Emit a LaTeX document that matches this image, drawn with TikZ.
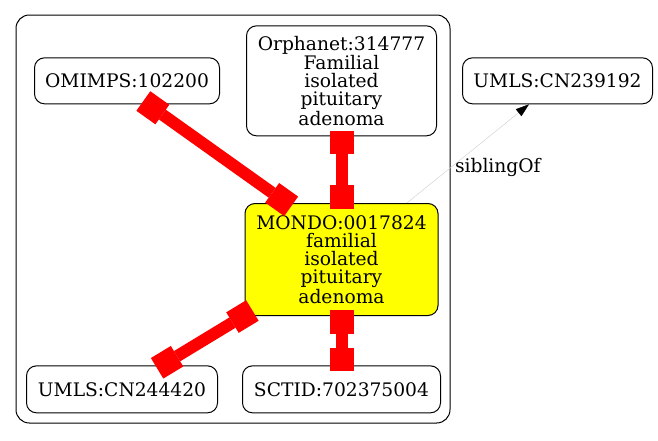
\documentclass[tikz,border=0pt]{standalone}
\usepackage{fontspec}
\setmainfont{DejaVu Serif}
\usepackage{tikz}
\usetikzlibrary{arrows.meta, positioning}
\definecolor{termyellow}{RGB}{255,255,0}
\definecolor{matchred}{RGB}{255,0,0}

\begin{document}
\begin{tikzpicture}[
  x=0.75pt, y=-0.75pt,
  term/.style={rectangle, draw=black, line width=0.75pt, rounded corners=7.5pt, align=center, inner sep=0pt,
    font=\fontsize{14pt}{13.5pt}\selectfont},
  smallterm/.style={term, minimum height=34.5pt},
  match/.style={draw=matchred, line width=9pt,
    {Square[length=17.5pt,width=18pt,line width=0pt]}-{Square[length=17.5pt,width=18pt,line width=0pt]},
    shorten <=-4.3pt, shorten >=-4.3pt},
  sibling/.style={draw=black!20, line width=0.3pt, -{Triangle[length=10pt,width=6.7pt,color=black]}}
]
\useasboundingbox (0,0) rectangle (658,440);

% cluster
\draw[line width=0.75pt, rounded corners=10pt] (16,15) rectangle (450,423);

\node[term, fill=termyellow, minimum width=144.75pt, minimum height=84pt] (mondo) at (341.5,259.5)
  {MONDO:0017824\\familial\\isolated\\pituitary\\adenoma};
\node[term, minimum width=142.5pt, minimum height=82.5pt, above=50pt of mondo] (orpha)
  {Orphanet:314777\\Familial\\isolated\\pituitary\\adenoma};
\node[smallterm, minimum width=138.75pt, left=19.5pt of orpha] (omim) {OMIMPS:102200};
\node[smallterm, minimum width=142.5pt, right=18.75pt of orpha] (umlsa) {UMLS:CN239192};
\node[smallterm, minimum width=148.5pt, minimum height=35.25pt, below=37pt of mondo] (sctid) {SCTID:702375004};
\node[smallterm, minimum width=143.25pt, minimum height=35.25pt, left=18pt of sctid] (umlsb) {UMLS:CN244420};

\draw[match] ([xshift=15.75pt]omim.south) -- ([xshift=-41.25pt]mondo.north);
\draw[match] (orpha.south) -- (mondo.north);
\draw[match] ([xshift=2.25pt,yshift=1.9pt]mondo.south west) -- ([xshift=30pt]umlsb.north);
\draw[match] (mondo.south) -- (sctid.north);

\draw[sibling] ([xshift=49pt]mondo.north) -- node[pos=0.36, right, inner sep=3pt,
  font=\fontsize{14pt}{13.5pt}\selectfont] {siblingOf} ([xshift=50.25pt]umlsa.south west);

\end{tikzpicture}
\end{document}
